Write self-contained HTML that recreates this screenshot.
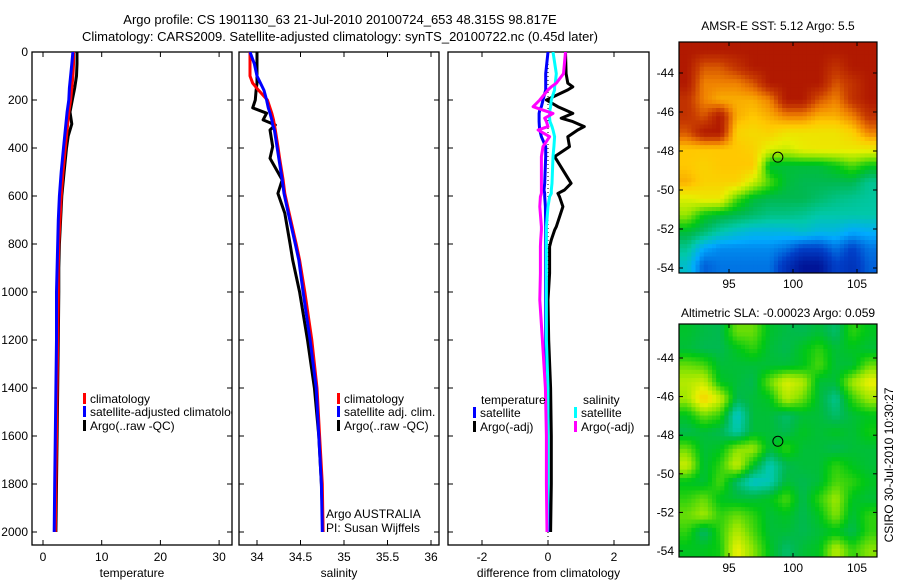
<!DOCTYPE html>
<html><head><meta charset="utf-8"><style>
body{margin:0;background:#fff;}
svg{display:block;font-family:"Liberation Sans",sans-serif;}
text{font-size:12px;fill:#000;}
</style></head><body>
<svg id="c" width="900" height="580" viewBox="0 0 900 580">
<defs>
<clipPath id="cp1"><rect x="32" y="52" width="200" height="493"/></clipPath>
<clipPath id="cp2"><rect x="239" y="52" width="200" height="493"/></clipPath>
<clipPath id="cp3"><rect x="448" y="52" width="201" height="493"/></clipPath>
</defs>
<text x="340" y="24" text-anchor="middle" style="font-size:13px">Argo profile: CS 1901130_63 21-Jul-2010 20100724_653 48.315S 98.817E</text>
<text x="340" y="41" text-anchor="middle" style="font-size:13px">Climatology: CARS2009. Satellite-adjusted climatology: synTS_20100722.nc (0.45d later)</text>
<text x="778" y="30" text-anchor="middle">AMSR-E SST: 5.12 Argo: 5.5</text>
<text x="778" y="317" text-anchor="middle">Altimetric SLA: -0.00023 Argo: 0.059</text>
<text x="0" y="0" transform="translate(893,465) rotate(-90)" text-anchor="middle">CSIRO 30-Jul-2010 10:30:27</text>
<g id="g"></g>
</svg>
<script>
// ---- profile data ----
const depthT=[0,50,100,150,200,250,300,350,400,500,600,700,800,900,1000,1200,1400,1600,1800,2000];
const tempClim=[5.2,5.2,5.1,4.9,4.7,4.4,4.2,4.0,3.8,3.4,3.1,2.9,2.7,2.6,2.6,2.5,2.4,2.3,2.2,2.1];
const tempSat=[5.1,4.9,4.7,4.5,4.4,4.1,3.9,3.7,3.5,3.1,2.8,2.6,2.5,2.4,2.3,2.3,2.2,2.1,2.0,1.9];
const tempArgo=[5.8,5.8,5.7,5.4,5.0,4.6,4.9,4.3,4.0,3.6,3.2,3.0,2.8,2.7,2.7,2.6,2.5,2.4,2.3,2.2];
const depthS=[0,50,100,130,160,200,233,255,283,304,325,394,443,533,589,672,800,867,1000,1200,1400,1600,1800,2000];
const salClim=[33.92,33.92,33.92,33.95,34.02,34.12,34.15,34.17,34.19,34.2,34.21,34.24,34.26,34.3,34.32,34.37,34.45,34.49,34.55,34.63,34.69,34.72,34.75,34.76];
const salSat=[33.92,33.97,34.0,34.04,34.08,34.11,34.13,34.15,34.17,34.18,34.2,34.23,34.25,34.29,34.31,34.36,34.44,34.48,34.53,34.61,34.68,34.71,34.74,34.75];
const salArgo=[34.0,34.0,34.0,34.0,33.99,33.98,33.95,34.11,34.07,34.21,34.15,34.18,34.15,34.29,34.24,34.32,34.38,34.41,34.49,34.58,34.66,34.71,34.74,34.76];
const depthD=[0,90,130,145,158,200,228,240,256,276,290,311,325,353,394,436,547,575,589,603,644,728,742,783,811,922,1033,1200,1400,1600,1800,2000];
const dTempSat=[0.0,-0.07,-0.07,-0.07,-0.07,-0.15,-0.2,-0.25,-0.27,-0.27,-0.27,-0.26,-0.25,-0.2,-0.07,-0.07,-0.1,-0.12,-0.1,-0.1,-0.08,-0.07,-0.07,-0.07,-0.07,-0.07,-0.07,-0.07,-0.05,-0.03,0.0,0.0];
const dTempArgo=[0.53,0.55,0.6,0.75,0.6,-0.05,0.3,0.5,0.75,0.4,0.75,1.1,0.9,0.6,0.65,0.2,0.7,0.5,0.3,0.35,0.45,0.25,0.2,0.1,0.05,0.05,0.0,0.02,0.08,0.1,0.1,0.08];
const dSalSat=[0.15,0.25,0.22,0.2,0.2,0.1,0.08,0.06,0.05,0.05,0.06,0.12,0.15,0.2,0.18,0.15,0.12,0.1,0.1,0.05,0.0,-0.05,-0.05,-0.05,-0.05,-0.05,-0.05,-0.05,0.0,0.0,0.0,-0.02];
const dSalArgo=[0.53,0.47,0.25,0.1,0.0,-0.25,-0.45,-0.2,0.15,-0.1,-0.05,0.0,-0.3,0.05,-0.15,-0.2,-0.2,-0.2,-0.2,-0.23,-0.25,-0.2,-0.2,-0.22,-0.23,-0.23,-0.25,-0.17,-0.08,-0.05,-0.05,-0.03];
// ---- axis ticks ----
const depthTicks=[0,200,400,600,800,1000,1200,1400,1600,1800,2000];
const tempTicks=[0,10,20,30];
const salTicks=[34,34.5,35,35.5,36];
const salTickLabels=["34","34.5","35","35.5","36"];
const diffTicks=[-2,0,2];
// ---- map data ----
const latTicks=[-44,-46,-48,-50,-52,-54];
const lonTicks=[95,100,105];
const sstGrid=[
[.95,.95,.95,.95,.95,.95,.95,.95,.95,.95,.95,.95],
[.95,.85,.85,.9,.95,.95,.95,.95,.95,.9,.95,.95],
[.95,.8,.8,.8,.85,.95,.95,.95,.95,.85,.9,.95],
[.9,.8,.75,.75,.75,.8,.95,.95,.85,.8,.9,.95],
[.9,.85,.95,.75,.72,.75,.8,.8,.75,.75,.8,.9],
[.85,.95,.95,.7,.68,.7,.66,.66,.66,.66,.7,.8],
[.72,.72,.72,.72,.7,.62,.6,.64,.65,.65,.65,.65],
[.72,.7,.72,.72,.72,.42,.42,.42,.42,.45,.5,.45],
[.75,.7,.7,.7,.6,.5,.42,.4,.4,.4,.4,.35],
[.62,.65,.65,.5,.42,.4,.4,.4,.38,.36,.35,.34],
[.55,.45,.42,.4,.38,.36,.36,.35,.33,.33,.33,.33],
[.42,.38,.33,.3,.28,.28,.28,.3,.28,.28,.25,.26],
[.35,.25,.22,.22,.22,.22,.2,.15,.15,.2,.15,.2],
[.3,.18,.2,.2,.2,.2,.12,.05,.05,.15,.12,.18]];
const slaGrid=[
[.43,.41,.40,.52,.52,.43,.41,.40,.42,.38,.48,.44],
[.42,.40,.40,.44,.48,.42,.40,.44,.48,.42,.44,.42],
[.52,.50,.42,.42,.42,.42,.42,.44,.50,.42,.42,.52],
[.58,.60,.44,.42,.40,.52,.62,.58,.42,.42,.56,.64],
[.56,.70,.60,.40,.42,.44,.58,.52,.42,.35,.48,.56],
[.44,.52,.48,.30,.42,.42,.38,.42,.42,.38,.42,.44],
[.40,.42,.40,.33,.42,.42,.40,.44,.42,.44,.42,.46],
[.52,.42,.44,.54,.56,.42,.48,.42,.42,.40,.42,.42],
[.60,.42,.48,.60,.44,.32,.40,.42,.42,.48,.44,.42],
[.44,.42,.50,.38,.30,.32,.42,.40,.42,.50,.48,.44],
[.48,.52,.44,.42,.42,.44,.50,.40,.48,.56,.44,.42],
[.52,.56,.48,.52,.48,.42,.44,.40,.44,.54,.42,.48],
[.48,.38,.48,.58,.50,.42,.42,.40,.42,.44,.40,.48],
[.44,.44,.46,.64,.54,.44,.38,.42,.44,.58,.48,.54]];
const floatLon=98.817, floatLat=-48.315;

const NS='http://www.w3.org/2000/svg';
const G=document.getElementById('g');
function mk(tag,attrs,parent){const e=document.createElementNS(NS,tag);for(const k in attrs)e.setAttribute(k,attrs[k]);(parent||G).appendChild(e);return e;}
const yD=d=>52+d*0.24;
const panels=[
 {x0:32,x1:232,sx:v=>43+v*5.87,ticks:tempTicks,labels:tempTicks.map(String),xlabel:'temperature',clip:'cp1',name:'temperature'},
 {x0:239,x1:439,sx:v=>257+(v-34)*87,ticks:salTicks,labels:salTickLabels,xlabel:'salinity',clip:'cp2',name:'salinity'},
 {x0:448,x1:649,sx:v=>548+v*33,ticks:diffTicks,labels:diffTicks.map(String),xlabel:'difference from climatology',clip:'cp3',name:'difference'}];
panels.forEach((p,i)=>{
 const box=mk('rect',{x:p.x0,y:52,width:p.x1-p.x0,height:493,fill:'none',stroke:'#000','stroke-width':1.3});
 
 
 p.ticks.forEach((t,j)=>{
  const x=p.sx(t);
  mk('line',{x1:x,x2:x,y1:52,y2:57,stroke:'#000'});
  mk('line',{x1:x,x2:x,y1:545,y2:540,stroke:'#000'});
  const tl=mk('text',{x:x,y:561,'text-anchor':'middle'});tl.textContent=p.labels[j];
  
  
 });
 depthTicks.forEach(d=>{
  mk('line',{x1:p.x0,x2:p.x0+5,y1:yD(d),y2:yD(d),stroke:'#000'});
  mk('line',{x1:p.x1,x2:p.x1-5,y1:yD(d),y2:yD(d),stroke:'#000'});
  if(i==0){const tl=mk('text',{x:28,y:yD(d)+4,'text-anchor':'end'});tl.textContent=d;
   
   }
 });
 const xl=mk('text',{x:(p.x0+p.x1)/2,y:577,'text-anchor':'middle'});xl.textContent=p.xlabel;
 
 
});
function line(p,depths,vals,color,name,w){
 const pts=vals.map((v,k)=>p.sx(v).toFixed(1)+','+yD(depths[k]).toFixed(1)).join(' ');
 const e=mk('polyline',{points:pts,fill:'none',stroke:color,'stroke-width':w||3,'clip-path':'url(#'+p.clip+')','stroke-linejoin':'round'});
 
 
}
line(panels[0],depthT,tempArgo,'#000','temp-argo-line');
line(panels[0],depthT,tempClim,'#f00','temp-climatology-line');
line(panels[0],depthT,tempSat,'#00f','temp-satellite-line');
line(panels[1],depthS,salArgo,'#000','salinity-argo-line');
line(panels[1],depthS,salClim,'#f00','salinity-climatology-line');
line(panels[1],depthS,salSat,'#00f','salinity-satellite-line');
const zl=mk('line',{x1:548,x2:548,y1:52,y2:545,stroke:'#000','stroke-dasharray':'1,3'});


line(panels[2],depthD,dTempArgo,'#000','diff-temp-argo-line');
line(panels[2],depthD,dTempSat,'#00f','diff-temp-satellite-line');
line(panels[2],depthD,dSalSat,'#0ff','diff-salinity-satellite-line');
line(panels[2],depthD,dSalArgo,'#f0f','diff-salinity-argo-line');
function legend(x,y,color,label,clip,name){
 mk('rect',{x:x-2,y:y-10,width:3,height:11,fill:color});
 const t=mk('text',{x:x+5,y:y,'clip-path':clip?'url(#'+clip+')':''});t.textContent=label;
 
 
}
legend(85,403,'#f00','climatology','cp1','legend-climatology');
legend(85,416,'#00f','satellite-adjusted climatology','cp1','legend-satellite');
legend(85,430,'#000','Argo(..raw -QC)','cp1','legend-argo');
legend(339,403,'#f00','climatology','cp2','legend-sal-climatology');
legend(339,416,'#00f','satellite adj. clim.','cp2','legend-sal-satellite');
legend(339,430,'#000','Argo(..raw -QC)','cp2','legend-sal-argo');
[['Argo AUSTRALIA',518],['PI: Susan Wijffels',532]].forEach(a=>{const t=mk('text',{x:326,y:a[1]});t.textContent=a[0];
 
 });
const lt=mk('text',{x:481,y:404});lt.textContent='temperature';


const ls=mk('text',{x:583,y:404});ls.textContent='salinity';


legend(475,417,'#00f','satellite',null,'legend-diff-temp-satellite');
legend(475,431,'#000','Argo(-adj)',null,'legend-diff-temp-argo');
legend(576,417,'#0ff','satellite',null,'legend-diff-sal-satellite');
legend(576,431,'#f0f','Argo(-adj)',null,'legend-diff-sal-argo');
// ---- maps ----
const stops=[[0,0,0,128],[.15,0,64,200],[.25,0,170,255],[.33,0,200,170],[.4,0,185,80],[.45,0,200,20],[.55,150,230,0],[.63,230,240,0],[.72,255,200,0],[.8,240,130,0],[.88,200,60,0],[1,160,0,0]];
function cmap(v){for(let i=1;i<stops.length;i++){if(v<=stops[i][0]){const a=stops[i-1],b=stops[i],f=(v-a[0])/(b[0]-a[0]);return 'rgb('+[1,2,3].map(k=>Math.round(a[k]+(b[k]-a[k])*f)).join(',')+')';}}return 'rgb(160,0,0)';}
function sample(grid,fr,fc){
 const R=grid.length-1,C=grid[0].length-1;
 fr=Math.max(0,Math.min(R,fr));fc=Math.max(0,Math.min(C,fc));
 const r0=Math.min(R-1,Math.floor(fr)),c0=Math.min(C-1,Math.floor(fc)),a=fr-r0,b=fc-c0;
 return grid[r0][c0]*(1-a)*(1-b)+grid[r0+1][c0]*a*(1-b)+grid[r0][c0+1]*(1-a)*b+grid[r0+1][c0+1]*a*b;
}
function drawMap(grid,top,bot,latA,yA,latB,yB,name){
 const x0=679,x1=877,sxL=l=>729+(l-95)*12.8,syL=l=>yA+(l-latA)*(yB-yA)/(latB-latA);
 const rows=grid.length,cols=grid[0].length,S=4;
 const cw=(x1-x0)/(cols*S),ch=(bot-top)/(rows*S);
 for(let ri=0;ri<rows*S;ri++)for(let ci=0;ci<cols*S;ci++){
  const v=sample(grid,(ri+0.5)/S-0.5,(ci+0.5)/S-0.5);
  const c=mk('rect',{x:x0+ci*cw,y:top+ri*ch,width:cw+0.5,height:ch+0.5,fill:cmap(v)});
  
  
 }
 const b=mk('rect',{x:x0,y:top,width:x1-x0,height:bot-top,fill:'none',stroke:'#000','stroke-width':1.2});
 
 
 latTicks.forEach(l=>{const y=syL(l);mk('line',{x1:x0,x2:x0+4,y1:y,y2:y,stroke:'#000'});mk('line',{x1:x1,x2:x1-4,y1:y,y2:y,stroke:'#000'});
  const t=mk('text',{x:674,y:y+4,'text-anchor':'end'});t.textContent=l;
  
  });
 lonTicks.forEach(l=>{const x=sxL(l);mk('line',{x1:x,x2:x,y1:top,y2:top+4,stroke:'#000'});mk('line',{x1:x,x2:x,y1:bot,y2:bot-4,stroke:'#000'});
  const t=mk('text',{x:x,y:bot+15,'text-anchor':'middle'});t.textContent=l;
  
  });
 const m=mk('circle',{cx:sxL(floatLon),cy:syL(floatLat),r:5,fill:'none',stroke:'#000'});
 
 
}
drawMap(sstGrid,42,273,-44,73,-54,268,'sst-map');
drawMap(slaGrid,324,557,-44,358,-54,551,'sla-map');
</script>
</body></html>
